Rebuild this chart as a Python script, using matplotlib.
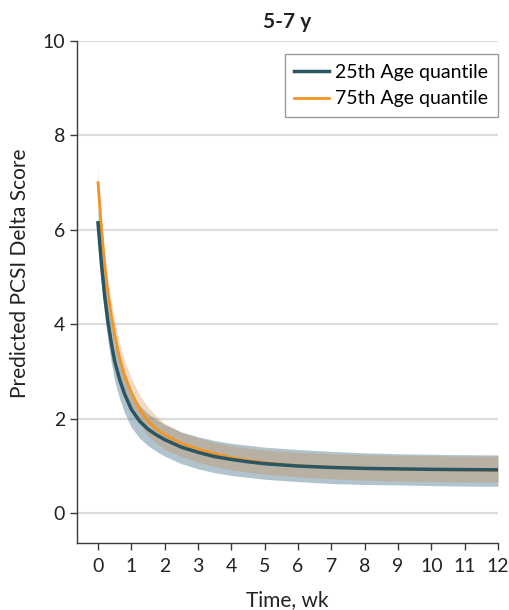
import matplotlib
matplotlib.use("Agg")
import matplotlib.pyplot as plt

# Predicted PCSI delta score over time, 5-7 y age group
weeks = [0, 0.1, 0.2, 0.3, 0.4, 0.5, 0.65, 0.8, 1.0, 1.25, 1.5, 1.75, 2.0, 2.5,
         3.0, 3.5, 4.0, 4.5, 5, 6, 7, 8, 9, 10, 11, 12]

q25_mean = [6.15, 5.30, 4.60, 4.05, 3.60, 3.22, 2.83, 2.52, 2.20, 1.95, 1.78, 1.66,
            1.56, 1.40, 1.29, 1.20, 1.14, 1.09, 1.05, 1.00, 0.97, 0.95, 0.94, 0.93,
            0.925, 0.92]
q25_lower = [5.73, 4.88, 4.18, 3.63, 3.18, 2.80, 2.42, 2.12, 1.82, 1.59, 1.43, 1.31,
             1.21, 1.05, 0.94, 0.86, 0.80, 0.76, 0.72, 0.67, 0.63, 0.61, 0.60, 0.585,
             0.575, 0.57]
q25_upper = [6.51, 5.66, 4.96, 4.41, 3.96, 3.58, 3.19, 2.88, 2.54, 2.28, 2.11, 1.99,
             1.88, 1.72, 1.62, 1.54, 1.48, 1.44, 1.40, 1.35, 1.31, 1.28, 1.26, 1.25,
             1.24, 1.235]

q75_mean = [7.00, 6.05, 5.25, 4.65, 4.18, 3.78, 3.28, 2.92, 2.56, 2.20, 1.95, 1.78,
            1.66, 1.48, 1.36, 1.26, 1.18, 1.12, 1.07, 1.01, 0.975, 0.95, 0.935, 0.925,
            0.915, 0.91]
q75_lower = [6.70, 5.75, 4.95, 4.35, 3.88, 3.48, 2.98, 2.62, 2.26, 1.90, 1.65, 1.48,
             1.36, 1.20, 1.08, 0.99, 0.92, 0.87, 0.83, 0.77, 0.73, 0.70, 0.685, 0.675,
             0.665, 0.66]
q75_upper = [7.30, 6.35, 5.55, 4.95, 4.48, 4.08, 3.58, 3.22, 2.86, 2.50, 2.25, 2.06,
             1.90, 1.72, 1.60, 1.50, 1.43, 1.38, 1.34, 1.29, 1.26, 1.24, 1.23, 1.22,
             1.21, 1.21]

x_ticks = list(range(0, 13))
y_ticks = [0, 2, 4, 6, 8, 10]

dark = "#2a5562"
orange = "#f39423"
axis_col = "#3a3a3a"
text_col = "#222222"

plt.rcParams["font.family"] = ["Lato", "DejaVu Sans"]

fig = plt.figure(figsize=(5.09, 6.10), dpi=100)
ax = fig.add_axes([0.1513, 0.1098, 0.9784 - 0.1513, 0.9328 - 0.1098])

ax.fill_between(weeks, q25_lower, q25_upper, color="#65899d", alpha=0.5, lw=0)
ax.fill_between(weeks, q75_lower, q75_upper, color="#c98845", alpha=0.3, lw=0)
ax.plot(weeks, q75_mean, color=orange, lw=2.0, label="75th Age quantile", zorder=3)
ax.plot(weeks, q25_mean, color=dark, lw=2.5, label="25th Age quantile", zorder=4)

ax.set_xlim(-0.63, 12)
ax.set_ylim(-0.63, 10)
ax.set_xticks(x_ticks)
ax.set_yticks(y_ticks)
ax.grid(axis="y", color="#dcdcdc", lw=1.6)
ax.set_axisbelow(True)

for side in ["top", "right"]:
    ax.spines[side].set_visible(False)
for side in ["left", "bottom"]:
    ax.spines[side].set_color(axis_col)
    ax.spines[side].set_linewidth(1.0)
ax.tick_params(direction="out", length=5, width=1.0, color=axis_col,
               labelcolor=text_col, labelsize=14)
ax.tick_params(axis="x", pad=6)

ax.set_title("5-7 y", fontsize=15, fontweight="bold", color=text_col, pad=9)
ax.set_xlabel("Time, wk", fontsize=15, color=text_col, labelpad=11)
ax.set_ylabel("Predicted PCSI Delta Score", fontsize=15, color=text_col)
ax.yaxis.set_label_coords(-0.112, 0.538)

handles, labels = ax.get_legend_handles_labels()
leg = ax.legend(handles[::-1], labels[::-1], loc="upper right",
                bbox_to_anchor=(1.0, 0.974), borderaxespad=0, fontsize=14,
                frameon=True, fancybox=False, edgecolor="#808080",
                handlelength=1.8, borderpad=0.5, labelspacing=0.5,
                handletextpad=0.3)
leg.get_frame().set_linewidth(1.0)

fig.savefig("out.png", dpi=100)
